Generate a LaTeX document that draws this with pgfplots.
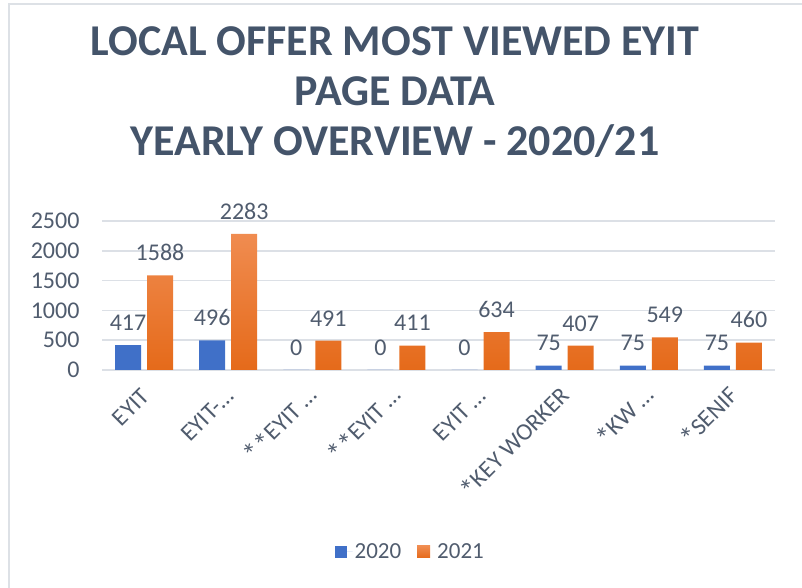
\documentclass[border=0pt]{standalone}
\usepackage{fontspec}
\setmainfont{Carlito}
\usepackage{pgfplots}
\pgfplotsset{compat=1.18}
\definecolor{titlec}{HTML}{44546A}
\definecolor{lblc}{HTML}{505C6E}
\definecolor{gridc}{HTML}{DCE0E6}
\definecolor{framec}{HTML}{DDE1E6}
\definecolor{blue20}{HTML}{4070C8}
\definecolor{orangetop}{HTML}{F08C50}
\definecolor{orangebot}{HTML}{E56A1A}
\definecolor{orange21}{HTML}{ED7D31}
\newcommand{\stx}{\raisebox{-0.35ex}{\scalebox{1.25}{*}}}
\begin{document}
\begin{tikzpicture}[x=1pt,y=1pt]
\useasboundingbox (0,0) rectangle (802,588);
\draw[line width=2pt, color=framec] (9,0) -- (9,584) -- (802,584);
\node[font=\fontsize{44}{50}\selectfont\bfseries, align=center, text=titlec] at (395,496)
  {LOCAL OFFER MOST VIEWED EYIT\\PAGE DATA\\YEARLY OVERVIEW - 2020/21};
\begin{axis}[
  at={(102pt,218pt)}, anchor=south west, scale only axis,
  width=673pt, height=149pt,
  xmin=-0.5, xmax=7.5, ymin=0, ymax=2500,
  ybar=6pt, bar width=26pt,
  axis line style={draw=none}, major tick length=0pt,
  ytick={0,500,1000,1500,2000,2500},
  ymajorgrids, grid style={line width=1.5pt, color=gridc},
  xtick={0,1,2,3,4,5,6,7},
  xticklabels={EYIT, EYIT-…, \stx\stx EYIT …, \stx\stx EYIT …, EYIT …, \stx KEY WORKER, \stx KW …, \stx SENIF},
  tick label style={font=\fontsize{24}{28}\selectfont, text=lblc},
  /pgf/number format/assume math mode=true,
  /pgf/number format/set thousands separator={},
  yticklabel style={xshift=-19pt},
  xticklabel style={xshift=4pt, yshift=-20pt, rotate=45, anchor=east},
  nodes near coords,
  every node near coord/.append style={font=\fontsize{24}{28}\selectfont, text=lblc, yshift=11pt},
  legend style={at={(0.458,-1.221)}, anchor=center, draw=none, fill=none,
    legend columns=2, font=\fontsize{23}{27}\selectfont, text=lblc,
    /tikz/every even column/.append style={column sep=14pt}},
  clip=false,
]
\addplot[draw=none, fill=blue20,
  legend image code/.code={\fill[blue20] (0pt,-6pt) rectangle (12pt,6pt); \path (12pt,0pt) -- (18pt,0pt);}]
  coordinates {(0,417) (1,496) (2,0) (3,0) (4,0) (5,75) (6,75) (7,75)};
\addplot[draw=none, top color=orangetop, bottom color=orangebot,
  legend image code/.code={\fill[orange21] (0pt,-6pt) rectangle (13pt,6pt); \path (13pt,0pt) -- (18pt,0pt);}]
  coordinates {(0,1588) (1,2283) (2,491) (3,411) (4,634) (5,407) (6,549) (7,460)};
\legend{2020,2021}
\end{axis}
\end{tikzpicture}
\end{document}
